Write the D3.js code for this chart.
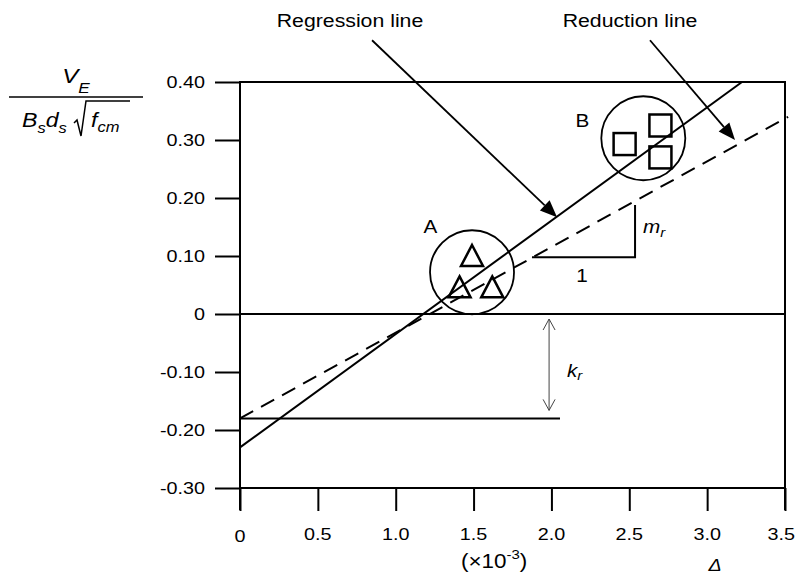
<!DOCTYPE html>
<html><head><meta charset="utf-8">
<script src="https://cdn.jsdelivr.net/npm/d3@7"></script>
<style>body{margin:0;background:#fff}svg{display:block}text{font-family:"Liberation Sans",Arial,sans-serif;fill:#000}</style>
</head><body><svg id="c" width="796" height="577"></svg>
<script>
// ---------- data ----------
const xTicks = [0, 0.5, 1.0, 1.5, 2.0, 2.5, 3.0, 3.5];
const xTickLabels = ["0", "0.5", "1.0", "1.5", "2.0", "2.5", "3.0", "3.5"];
const yTicks = [0.40, 0.30, 0.20, 0.10, 0, -0.10, -0.20, -0.30];
const yTickLabels = ["0.40", "0.30", "0.20", "0.10", "0", "-0.10", "-0.20", "-0.30"];
const groupNames = ["A", "B"];
const groupCenterX = [1.49, 2.59];
const groupCenterY = [0.072, 0.303];
const triangleX = [1.49, 1.41, 1.62];
const triangleY = [0.100, 0.046, 0.046];
const squareX = [2.47, 2.70, 2.70];
const squareY = [0.293, 0.325, 0.270];
const regressionX = [0, 3.224];
const regressionY = [-0.23, 0.40];
const reductionX = [0, 3.52];
const reductionY = [-0.18, 0.34];
const krLevel = -0.18;
const krLineEndX = 2.055;

// ---------- setup ----------
const SX = 1.15;
const svg = d3.select("#c");
const x = d3.scaleLinear().domain([0, 3.5]).range([240, 785]);
const y = d3.scaleLinear().domain([-0.3, 0.4]).range([488, 82]);

function txt(px, py, str, size, anchor, italic) {
  return svg.append("text")
    .attr("transform", `translate(${px},${py}) scale(${SX},1)`)
    .attr("text-anchor", anchor || "start")
    .style("font-size", size + "px")
    .style("font-style", italic ? "italic" : "normal")
    .text(str);
}
function sub(px, py, main, s, size, ssize, anchor, dy) {
  const t = svg.append("text")
    .attr("transform", `translate(${px},${py}) scale(${SX},1)`)
    .attr("text-anchor", anchor || "start")
    .style("font-size", size + "px").style("font-style", "italic");
  t.append("tspan").text(main);
  t.append("tspan").attr("dy", dy).style("font-size", ssize + "px").text(s);
  return t;
}

// ---------- axes ----------
const gy = svg.append("g").attr("transform", "translate(240,0)")
  .call(d3.axisLeft(y).tickValues(yTicks).tickSize(25).tickFormat(""));
gy.select(".domain").remove();
gy.selectAll("line").attr("stroke", "#000").attr("stroke-width", 2);

const gx = svg.append("g").attr("transform", "translate(0,488)")
  .call(d3.axisBottom(x).tickValues(xTicks).tickSize(23).tickFormat(""));
gx.select(".domain").remove();
gx.selectAll("line").attr("stroke", "#000").attr("stroke-width", 2);

// frame lines
const frame = svg.append("g").attr("stroke", "#000").attr("stroke-width", 2);
frame.append("line").attr("x1", x(0)).attr("x2", x(0)).attr("y1", y(0.4) - 1).attr("y2", 510);
frame.append("line").attr("x1", x(3.5)).attr("x2", x(3.5)).attr("y1", y(0.4) - 1).attr("y2", 510);
[0.4, 0, -0.3].forEach(v => frame.append("line").attr("x1", x(0)).attr("x2", x(3.5) + 1).attr("y1", y(v)).attr("y2", y(v)));

// tick labels
yTicks.forEach((d, i) => txt(205, y(d) + 6.3, yTickLabels[i], 17.2, "end"));
xTicks.forEach((d, i) => {
  const last = i === xTicks.length - 1;
  txt(last ? 795 : x(d), d === 0 ? 542 : 540, xTickLabels[i], 17.2, last ? "end" : "middle");
});

// ---------- lines ----------
const line = d3.line().x(d => x(d[0])).y(d => y(d[1]));
svg.append("path").attr("d", line(regressionX.map((v, i) => [v, regressionY[i]])))
  .attr("fill", "none").attr("stroke", "#000").attr("stroke-width", 2);
svg.append("path").attr("d", line(reductionX.map((v, i) => [v, reductionY[i]])))
  .attr("fill", "none").attr("stroke", "#000").attr("stroke-width", 2).attr("stroke-dasharray", "15,9");
// k_r base line
svg.append("line").attr("x1", x(0)).attr("x2", x(krLineEndX)).attr("y1", y(krLevel)).attr("y2", y(krLevel))
  .attr("stroke", "#000").attr("stroke-width", 2);

// ---------- groups ----------
groupCenterX.forEach((cx, i) => {
  svg.append("circle").attr("cx", x(cx)).attr("cy", y(groupCenterY[i])).attr("r", 42)
    .attr("fill", "none").attr("stroke", "#000").attr("stroke-width", 1.8);
});
txt(x(groupCenterX[0]) - 41.5, y(groupCenterY[0]) - 39, groupNames[0], 18, "middle");
txt(x(groupCenterX[1]) - 61, y(groupCenterY[1]) - 11, groupNames[1], 18, "middle");

triangleX.forEach((tx, i) => {
  const cx = x(tx), cy = y(triangleY[i]);
  svg.append("path").attr("d", `M${cx},${cy - 11}L${cx + 11},${cy + 10}L${cx - 11},${cy + 10}Z`)
    .attr("fill", "none").attr("stroke", "#000").attr("stroke-width", 2.5).attr("stroke-linejoin", "miter");
});
squareX.forEach((sx, i) => {
  svg.append("rect").attr("x", x(sx) - 11).attr("y", y(squareY[i]) - 11).attr("width", 22).attr("height", 22)
    .attr("fill", "none").attr("stroke", "#000").attr("stroke-width", 2.5);
});

// ---------- annotation arrows ----------
function arrow(x0, y0, x1, y1) {
  const p0 = [x(x0), y(y0)], p1 = [x(x1), y(y1)];
  const dx = p1[0] - p0[0], dy = p1[1] - p0[1], L = Math.hypot(dx, dy);
  const ux = dx / L, uy = dy / L, hl = 17, hw = 7;
  const b = [p1[0] - ux * hl, p1[1] - uy * hl];
  svg.append("line").attr("x1", p0[0]).attr("y1", p0[1]).attr("x2", b[0]).attr("y2", b[1])
    .attr("stroke", "#000").attr("stroke-width", 1.8);
  svg.append("path").attr("d", `M${p1[0]},${p1[1]}L${b[0] - uy * hw},${b[1] + ux * hw}L${b[0] + uy * hw},${b[1] - ux * hw}Z`)
    .attr("fill", "#000");
}
arrow(0.848, 0.472, 2.036, 0.167);
arrow(2.633, 0.472, 3.179, 0.300);
txt(350, 27, "Regression line", 18.5, "middle");
txt(630, 27, "Reduction line", 18.5, "middle");

// m_r slope triangle
svg.append("path").attr("d", line([[1.875, 0.098], [2.537, 0.098], [2.537, 0.188]]))
  .attr("fill", "none").attr("stroke", "#000").attr("stroke-width", 2);
sub(643, 233, "m", "r", 18, 13, "start", 4);
txt(582, 282, "1", 18, "middle");

// k_r double arrow
const kx = x(1.985), ky0 = y(0) + 5, ky1 = y(krLevel) - 8;
const kg = svg.append("g").attr("stroke", "#444").attr("stroke-width", 1).attr("fill", "none");
kg.append("line").attr("x1", kx).attr("x2", kx).attr("y1", ky0).attr("y2", ky1);
kg.append("path").attr("d", `M${kx - 6},${ky0 + 11}L${kx},${ky0}L${kx + 6},${ky0 + 11}`);
kg.append("path").attr("d", `M${kx - 6},${ky1 - 11}L${kx},${ky1}L${kx + 6},${ky1 - 11}`);
sub(567, 377, "k", "r", 18, 13, "start", 3);

// ---------- axis titles ----------
sub(76, 83, "V", "E", 21, 15, "middle", 10);
svg.append("line").attr("x1", 9).attr("x2", 143).attr("y1", 97).attr("y2", 97).attr("stroke", "#000").attr("stroke-width", 1.5);
{
  const t = svg.append("text").attr("transform", `translate(22,127) scale(${1.1},1)`)
    .style("font-size", "21px").style("font-style", "italic");
  t.append("tspan").text("B");
  t.append("tspan").attr("dy", 6).style("font-size", "15px").text("s");
  t.append("tspan").attr("dy", -6).text("d");
  t.append("tspan").attr("dy", 6).style("font-size", "15px").text("s");
}
svg.append("path").attr("d", "M74,123L77,120L81,136L86,101L130,101")
  .attr("fill", "none").attr("stroke", "#000").attr("stroke-width", 1.5);
{
  const t = svg.append("text").attr("transform", `translate(91,127) scale(${1.1},1)`)
    .style("font-size", "21px").style("font-style", "italic");
  t.append("tspan").text("f");
  t.append("tspan").attr("dy", 5).style("font-size", "15px").text("cm");
}
{
  const t = svg.append("text").attr("transform", `translate(461,568) scale(${SX},1)`)
    .style("font-size", "19.5px");
  t.append("tspan").text("(\u00d710");
  t.append("tspan").attr("dy", -9).style("font-size", "13px").text("-3");
  t.append("tspan").attr("dy", 9).text(")");
}
txt(715, 571, "\u0394", 17, "middle", true);
</script></body></html>
